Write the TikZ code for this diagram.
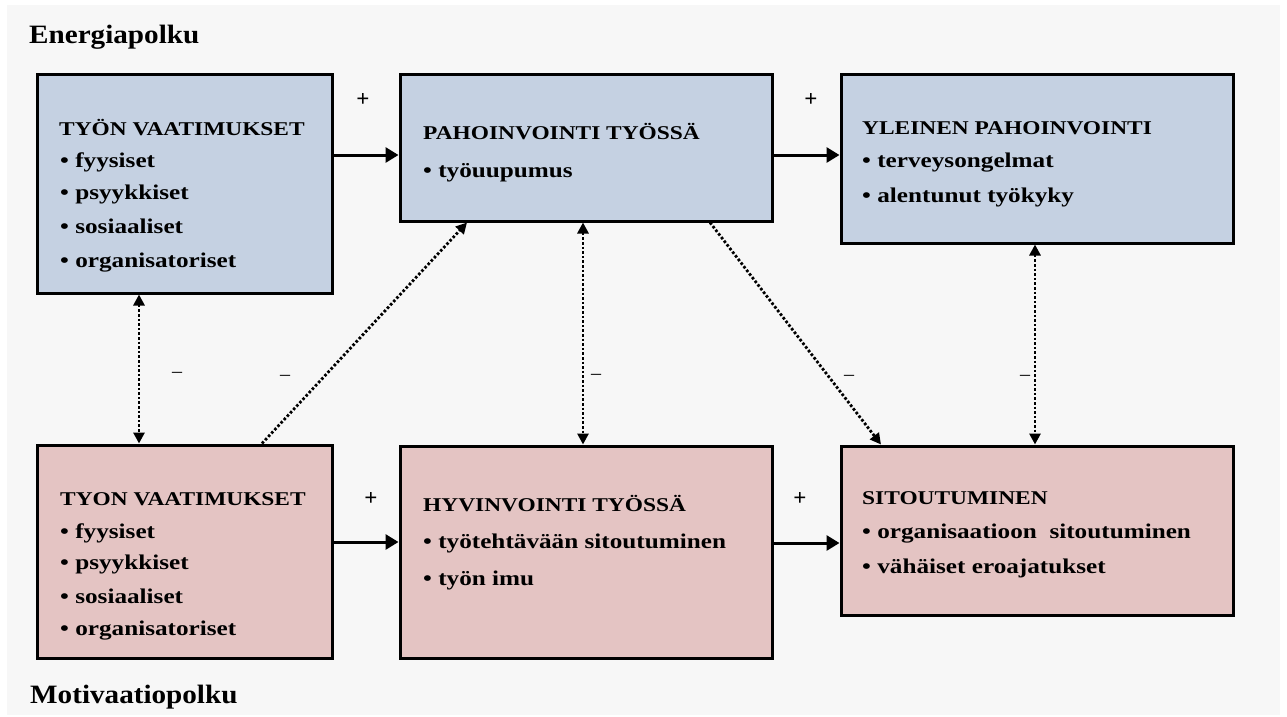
\documentclass[tikz,border=0pt]{standalone}
\usepackage{fontspec}
\setmainfont{Liberation Serif}
\newfontfamily\widefont{Liberation Serif}[FakeStretch=1.2]
\newfontfamily\hdrfont{Liberation Serif}[FakeStretch=1.1]
\usetikzlibrary{arrows.meta}
\definecolor{bgc}{HTML}{F7F7F7}
\definecolor{bluef}{HTML}{C5D1E2}
\definecolor{pinkf}{HTML}{E4C4C3}
\tikzset{
  boxb/.style={draw=black, line width=3pt, fill=bluef, inner sep=0pt},
  boxp/.style={draw=black, line width=3pt, fill=pinkf, inner sep=0pt},
  ttl/.style={anchor=base west, inner sep=0pt, font=\widefont\bfseries\fontsize{19.5}{19.5}\selectfont},
  itm/.style={anchor=base west, inner sep=0pt, font=\widefont\bfseries\fontsize{21}{21}\selectfont},
  hdr/.style={anchor=base west, inner sep=0pt, font=\hdrfont\bfseries\fontsize{26.5}{26.5}\selectfont},
  sgn/.style={inner sep=0pt, font=\bfseries\fontsize{23}{23}\selectfont},
  msgn/.style={inner sep=0pt, font=\fontsize{20}{20}\selectfont},
  solidarrow/.style={line width=3pt, -{Triangle[length=13pt,width=15pt]}},
  dotarrow/.style={line width=2.8pt, dash pattern=on 2.6pt off 2pt, {Triangle[length=11pt,width=11pt]}-{Triangle[length=11pt,width=11pt]}},
  dotone/.style={line width=2.8pt, dash pattern=on 2.6pt off 2pt, -{Triangle[length=11pt,width=11pt]}},
}
\begin{document}
\begin{tikzpicture}[x=1pt,y=-1pt]
\useasboundingbox (0,0) rectangle (1287,716);
\fill[white] (0,0) rectangle (1287,716);
\fill[bgc] (7,5) rectangle (1280,715);
% boxes
\node[boxb, minimum width=295pt, minimum height=219pt] (b1) at (184.5,183.5) {};
\node[boxb, minimum width=372pt, minimum height=147pt] (b2) at (586,147.5) {};
\node[boxb, minimum width=392pt, minimum height=169pt] (b3) at (1037,158.5) {};
\node[boxp, minimum width=295pt, minimum height=213pt] (b4) at (184.5,551.5) {};
\node[boxp, minimum width=372pt, minimum height=212pt] (b5) at (586,552) {};
\node[boxp, minimum width=392pt, minimum height=169pt] (b6) at (1037,530.5) {};
% headers
\node[hdr] (h1) at (29,43) {Energiapolku};
\node[hdr] (h2) at (30,703) {Motivaatiopolku};
% box 1 text
\node[ttl] (t1) at (59,135) {TYÖN VAATIMUKSET};
\node[itm] (t1a) at (60,167) {\textbullet\ fyysiset};
\node[itm] (t1b) at (60,199) {\textbullet\ psyykkiset};
\node[itm] (t1c) at (60,233) {\textbullet\ sosiaaliset};
\node[itm] (t1d) at (60,267) {\textbullet\ organisatoriset};
% box 2 text
\node[ttl] (t2) at (423,139) {PAHOINVOINTI TYÖSSÄ};
\node[itm] (t2a) at (423,177) {\textbullet\ työuupumus};
% box 3 text
\node[ttl] (t3) at (862,134) {YLEINEN PAHOINVOINTI};
\node[itm] (t3a) at (862,167) {\textbullet\ terveysongelmat};
\node[itm] (t3b) at (862,202) {\textbullet\ alentunut työkyky};
% box 4 text
\node[ttl] (t4) at (60,505) {TYON VAATIMUKSET};
\node[itm] (t4a) at (60,538) {\textbullet\ fyysiset};
\node[itm] (t4b) at (60,569) {\textbullet\ psyykkiset};
\node[itm] (t4c) at (60,603) {\textbullet\ sosiaaliset};
\node[itm] (t4d) at (60,635) {\textbullet\ organisatoriset};
% box 5 text
\node[ttl] (t5) at (423,511) {HYVINVOINTI TYÖSSÄ};
\node[itm] (t5a) at (423,548) {\textbullet\ työtehtävään sitoutuminen};
\node[itm] (t5b) at (423,585) {\textbullet\ työn imu};
% box 6 text
\node[ttl] (t6) at (862,504) {SITOUTUMINEN};
\node[itm] (t6a) at (862,538) {\textbullet\ organisaatioon\ \ sitoutuminen};
\node[itm] (t6b) at (862,573) {\textbullet\ vähäiset eroajatukset};
% solid arrows
\coordinate (a12) at ([yshift=-7.5pt]b2.west);
\coordinate (a23) at ([yshift=3.5pt]b3.west);
\coordinate (a45) at ([yshift=10pt]b5.west);
\coordinate (a56) at ([yshift=-12.5pt]b6.west);
\draw[solidarrow] (a12 -| b1.east) -- (a12);
\draw[solidarrow] (a23 -| b2.east) -- (a23);
\draw[solidarrow] (a45 -| b4.east) -- (a45);
\draw[solidarrow] (a56 -| b5.east) -- (a56);
% dotted arrows
\draw[dotarrow] ([xshift=-45.5pt]b1.south) -- ([xshift=-45.5pt]b4.north);
\draw[dotone] ([xshift=77.5pt]b4.north) -- ([xshift=-119pt]b2.south);
\draw[dotarrow] ([xshift=-3pt]b2.south) -- ([xshift=-3pt]b5.north);
\draw[dotone] ([xshift=124pt]b2.south) -- ([xshift=-156pt]b6.north);
\draw[dotarrow] ([xshift=-2pt]b3.south) -- ([xshift=-2pt]b6.north);
% signs
\node[sgn] (p1) at (363,100) {+};
\node[sgn] (p2) at (811,100) {+};
\node[sgn] (p3) at (371,499) {+};
\node[sgn] (p4) at (800,499) {+};
\node[msgn] (m1) at (177,375) {–};
\node[msgn] (m2) at (285,378) {–};
\node[msgn] (m3) at (596,377) {–};
\node[msgn] (m4) at (849,378) {–};
\node[msgn] (m5) at (1025,378) {–};
\end{tikzpicture}
\end{document}
